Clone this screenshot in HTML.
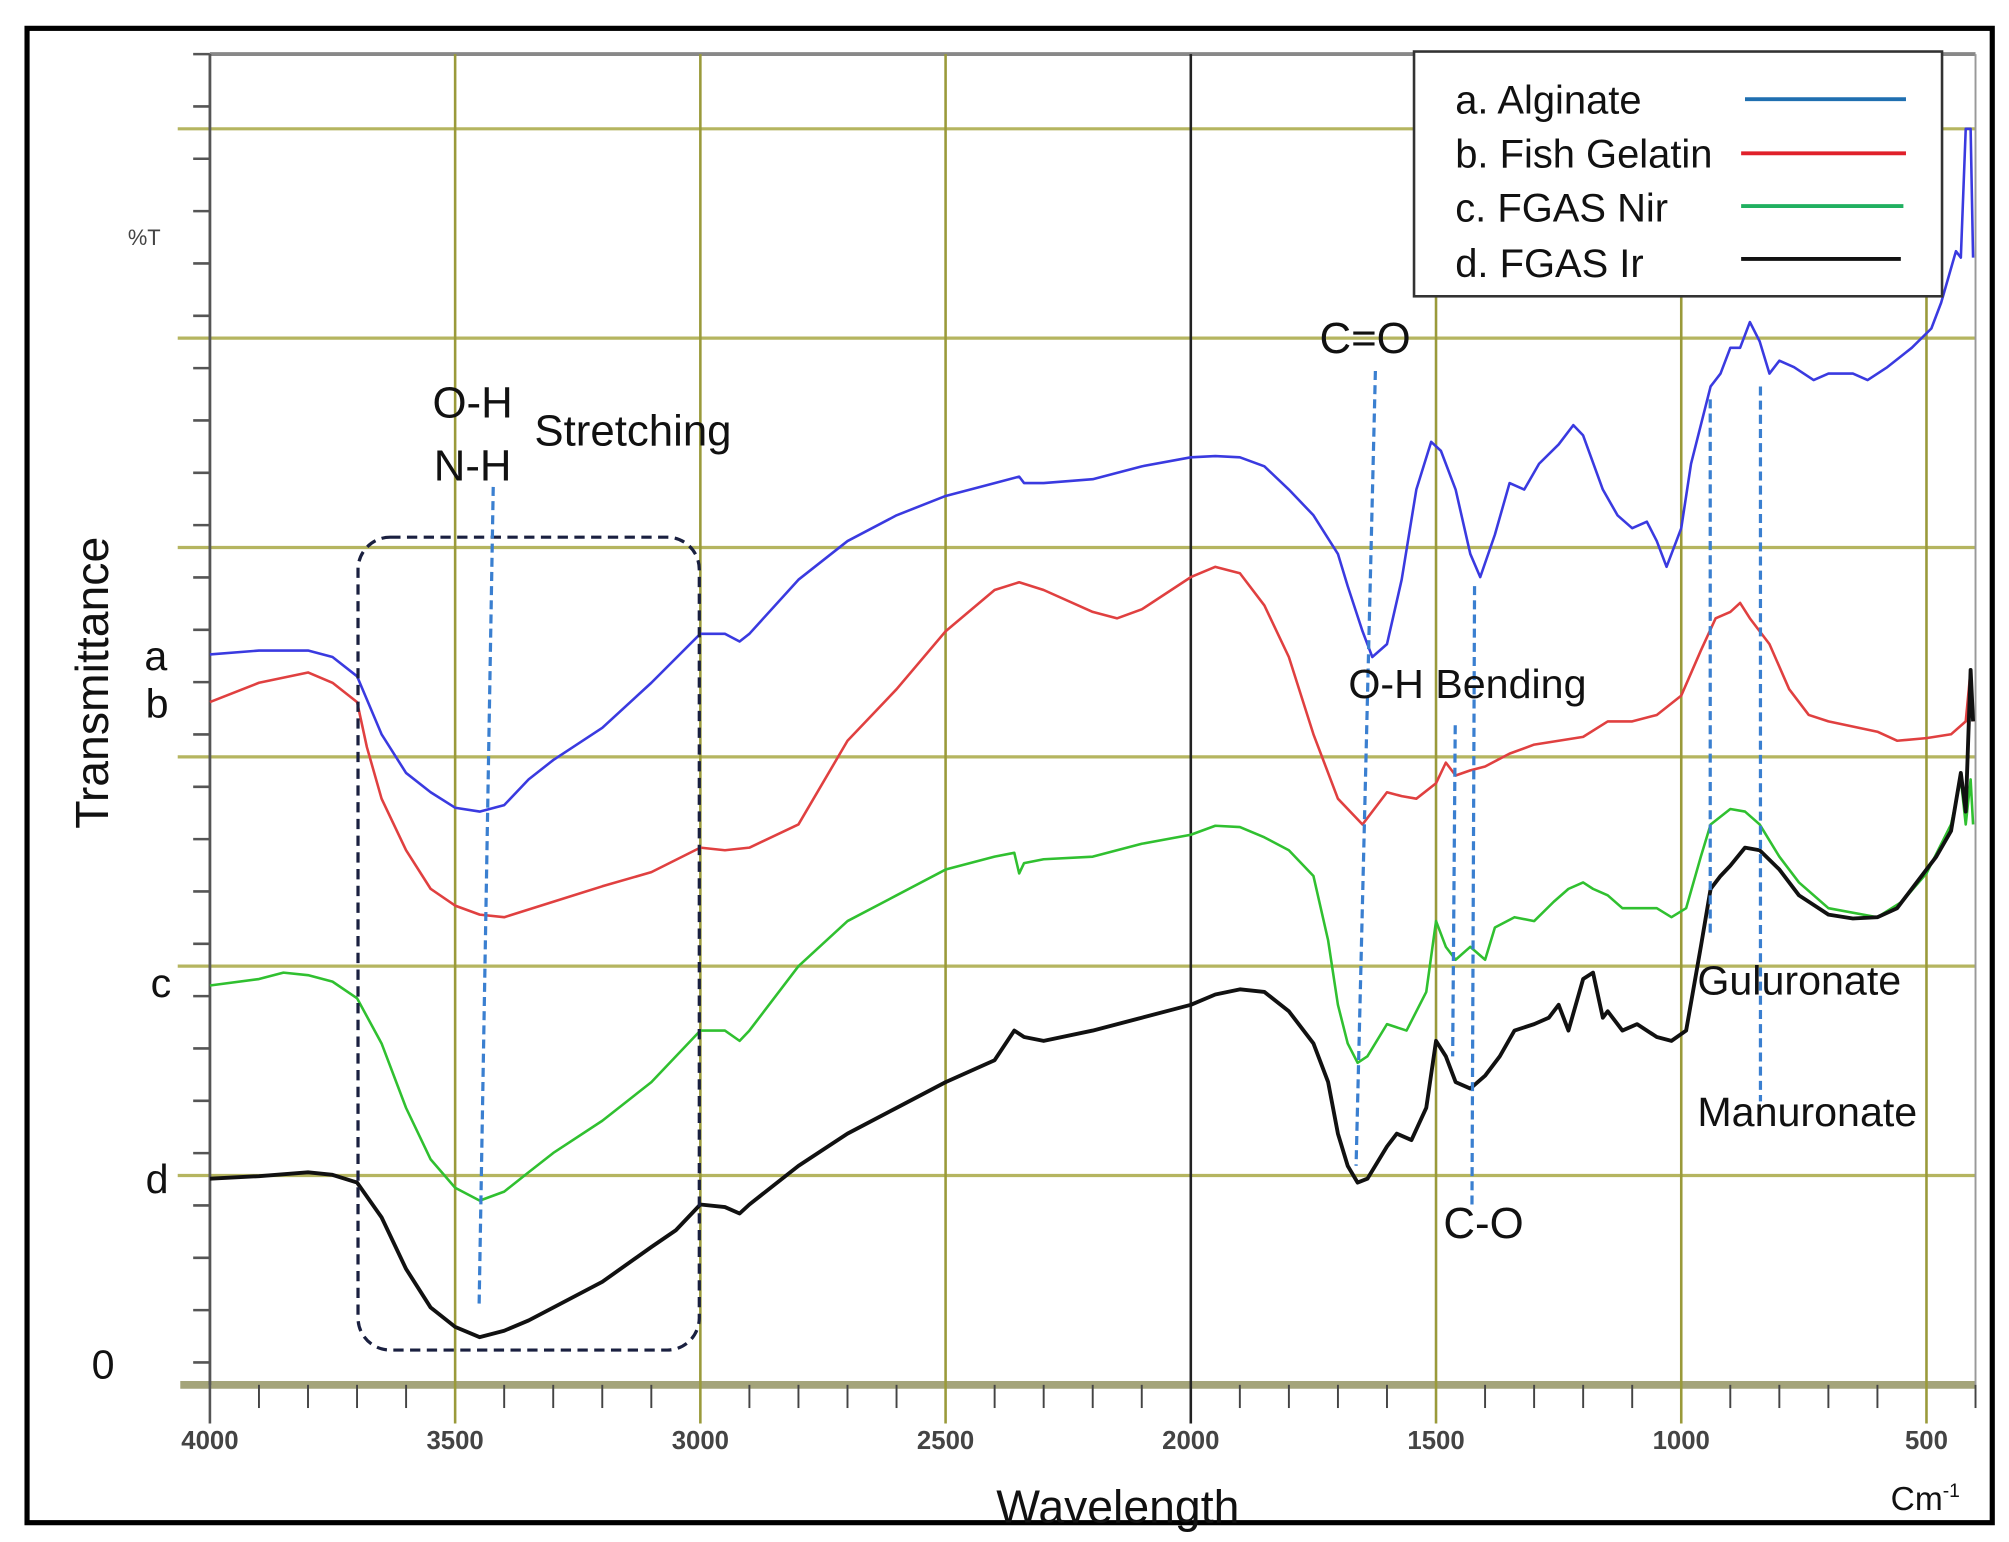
<!DOCTYPE html>
<html><head><meta charset="utf-8"><style>
html,body{margin:0;padding:0;background:#fff;}
svg{display:block;}
text{font-family:"Liberation Sans",sans-serif;}
</style></head><body>
<svg id="chart" width="2009" height="1542" viewBox="0 0 1560 1197" preserveAspectRatio="none" xmlns="http://www.w3.org/2000/svg">
<rect x="0" y="0" width="1560" height="1197" fill="#fff"/>
<rect x="21" y="22" width="1526" height="1160" fill="none" stroke="#000" stroke-width="4"/>
<g id="grid"></g>
<g id="series"></g>
<g id="annot">
  <rect x="278" y="417" width="265" height="631" rx="25" fill="none" stroke="#1a2040" stroke-width="2.5" stroke-dasharray="8,5"/>
  <line x1="383" y1="378" x2="372" y2="1015" stroke="#3a7fd0" stroke-width="2.5" stroke-dasharray="7,4"/>
  <line x1="1068" y1="288" x2="1053" y2="905" stroke="#3a7fd0" stroke-width="2.5" stroke-dasharray="7,4"/>
  <line x1="1130" y1="563" x2="1128" y2="820" stroke="#3a7fd0" stroke-width="2.5" stroke-dasharray="7,4"/>
  <line x1="1145" y1="455" x2="1143" y2="935" stroke="#3a7fd0" stroke-width="2.5" stroke-dasharray="7,4"/>
  <line x1="1328" y1="310" x2="1328" y2="728" stroke="#3a7fd0" stroke-width="2.5" stroke-dasharray="7,4"/>
  <line x1="1367" y1="300" x2="1367" y2="855" stroke="#3a7fd0" stroke-width="2.5" stroke-dasharray="7,4"/>
  <text x="1060" y="274" font-size="34" text-anchor="middle" fill="#111">C=O</text>
  <text x="367" y="324" font-size="34" text-anchor="middle" fill="#111">O-H</text>
  <text x="367" y="373" font-size="34" text-anchor="middle" fill="#111">N-H</text>
  <text x="415" y="346" font-size="34" fill="#111">Stretching</text>
  <text x="1047" y="542" font-size="32" fill="#111">O-H Bending</text>
  <text x="1152" y="961" font-size="34" text-anchor="middle" fill="#111">C-O</text>
  <text x="1318" y="772" font-size="32" fill="#111">Guluronate</text>
  <text x="1318" y="874" font-size="32" fill="#111">Manuronate</text>
</g>
<g>
  <rect x="1098" y="40" width="410" height="190" fill="#fff" stroke="#333" stroke-width="2"/>
  <text x="1130" y="88" font-size="31" fill="#111">a. Alginate</text>
  <line x1="1355" y1="77" x2="1480" y2="77" stroke="#1f6fb0" stroke-width="3"/>
  <text x="1130" y="130" font-size="31" fill="#111">b. Fish Gelatin</text>
  <line x1="1352" y1="119" x2="1480" y2="119" stroke="#e0202a" stroke-width="3"/>
  <text x="1130" y="172" font-size="31" fill="#111">c. FGAS Nir</text>
  <line x1="1352" y1="160" x2="1478" y2="160" stroke="#20b060" stroke-width="3"/>
  <text x="1130" y="215" font-size="31" fill="#111">d. FGAS Ir</text>
  <line x1="1352" y1="201" x2="1476" y2="201" stroke="#111" stroke-width="3"/>
</g>
<text x="112" y="190" font-size="17" text-anchor="middle" fill="#444">%T</text>
<text transform="translate(84,530) rotate(-90)" font-size="36" text-anchor="middle" fill="#111">Transmittance</text>
<text x="121" y="520" font-size="32" text-anchor="middle" fill="#111">a</text>
<text x="122" y="557" font-size="32" text-anchor="middle" fill="#111">b</text>
<text x="125" y="774" font-size="32" text-anchor="middle" fill="#111">c</text>
<text x="122" y="926" font-size="32" text-anchor="middle" fill="#111">d</text>
<text x="80" y="1070" font-size="32" text-anchor="middle" fill="#111">0</text>
<text x="868" y="1182" font-size="36" text-anchor="middle" fill="#111">Wavelength</text>
<text x="1495" y="1172" font-size="26" text-anchor="middle" fill="#111">Cm<tspan font-size="15" dy="-10">-1</tspan></text>
</svg>
<script>
const xTicks = [4000,3500,3000,2500,2000,1500,1000,500];
const hGridValues = [0,162.5,325,487.5,650,812.5,975];

const wnA = [4000,3900,3800,3750,3700,3650,3600,3550,3500,3450,3400,3350,3300,3200,3100,3000,2950,2920,2900,2800,2700,2600,2500,2400,2350,2340,2300,2200,2100,2000,1950,1900,1850,1800,1750,1700,1680,1650,1630,1600,1570,1540,1510,1490,1460,1430,1410,1380,1350,1320,1290,1250,1220,1200,1160,1130,1100,1070,1050,1030,1000,980,960,940,920,900,880,860,840,820,800,770,730,700,650,620,580,530,490,470,440,430,420,410,405];
const valA = [567,570,570,565,550,505,475,460,448,445,450,470,485,510,545,583,583,577,583,625,655,675,690,700,705,700,700,703,713,720,721,720,713,695,675,645,620,585,565,575,625,695,732,725,695,645,627,660,700,695,715,730,745,737,695,675,665,670,655,635,665,715,745,775,785,805,805,825,810,785,795,790,780,785,785,780,790,805,820,840,880,875,975,975,875];

const wnB = [4000,3900,3800,3750,3700,3680,3650,3600,3550,3500,3450,3400,3300,3200,3100,3000,2950,2900,2800,2700,2600,2500,2400,2350,2300,2200,2150,2100,2000,1950,1900,1850,1800,1750,1700,1650,1620,1600,1570,1540,1500,1480,1460,1430,1400,1350,1300,1250,1200,1150,1100,1050,1000,960,930,900,880,860,820,780,740,700,600,560,500,450,420,410,405];
const valB = [530,545,553,545,530,495,455,415,385,372,365,363,375,387,398,417,415,417,435,500,540,585,617,623,617,600,595,602,627,635,630,605,565,505,455,435,450,460,457,455,467,483,473,477,480,490,497,500,503,515,515,520,535,570,595,600,607,595,575,540,520,515,507,500,502,505,515,555,515];

const wnC = [4000,3900,3850,3800,3750,3700,3650,3600,3550,3500,3450,3400,3350,3300,3200,3100,3050,3000,2950,2920,2900,2800,2700,2600,2500,2400,2360,2350,2340,2300,2200,2100,2000,1950,1900,1850,1800,1750,1720,1700,1680,1660,1640,1600,1560,1520,1500,1480,1460,1430,1400,1380,1340,1300,1260,1230,1200,1180,1150,1120,1080,1050,1020,990,960,940,900,870,840,800,760,700,600,550,500,450,430,420,410,405];
const valC = [310,315,320,318,313,300,265,215,175,153,143,150,165,180,205,235,255,275,275,267,275,325,360,380,400,410,413,397,405,408,410,420,427,434,433,425,415,395,345,295,265,250,255,280,275,305,360,340,330,340,330,355,363,360,375,385,390,385,380,370,370,370,363,370,410,435,447,445,435,410,390,370,363,375,397,435,470,435,470,435];

const wnD = [4000,3900,3800,3750,3700,3650,3600,3550,3500,3450,3400,3350,3300,3200,3100,3050,3000,2950,2920,2900,2800,2700,2600,2500,2400,2360,2340,2300,2200,2100,2000,1950,1900,1850,1800,1750,1720,1700,1680,1660,1640,1600,1580,1550,1520,1500,1480,1460,1430,1400,1370,1340,1300,1270,1250,1230,1200,1180,1160,1150,1120,1090,1050,1020,990,960,940,920,900,870,840,800,760,700,650,600,560,520,480,450,430,420,410,405];
const valD = [160,162,165,163,157,130,90,60,45,37,42,50,60,80,107,120,140,138,133,140,170,195,215,235,252,275,270,267,275,285,295,303,307,305,290,265,235,195,170,157,160,185,195,190,215,267,255,235,230,240,255,275,280,285,295,275,315,320,285,290,275,280,270,267,275,340,385,395,403,417,415,400,380,365,362,363,370,390,410,430,475,445,555,515];

const NS = 'http://www.w3.org/2000/svg';
const X0 = 163, X1 = 1534, WN0 = 4000, WN1 = 400;
const Y0 = 1075, Y1 = 42, V0 = 0, V1 = 1033;
function xs(w){ return X0 + (WN0 - w) * (X1 - X0) / (WN0 - WN1); }
function ys(v){ return Y0 - (v - V0) * (Y0 - Y1) / (V1 - V0); }
function mk(tag, attrs, parent){ const e = document.createElementNS(NS, tag); for (const k in attrs) e.setAttribute(k, attrs[k]); parent.appendChild(e); return e; }

const grid = document.getElementById('grid');
const topLine = mk('line', {x1: X0, y1: Y1, x2: X1, y2: Y1, stroke: '#888', 'stroke-width': 3}, grid);


hGridValues.forEach((v, i) => {
  const l = mk('line', {x1: i === 0 ? 140 : 138, y1: ys(v), x2: X1, y2: ys(v), stroke: i === 0 ? '#a4a47a' : '#b5b560', 'stroke-width': i === 0 ? 6 : 2.5}, grid);
  
  
});
for (let y = Y1; y <= Y0; y += 162.5 / 4) {
  const t = mk('line', {x1: 150, y1: y, x2: X0, y2: y, stroke: '#555', 'stroke-width': 2}, grid);
  
  
}
const yAxis = mk('line', {x1: X0, y1: Y1, x2: X0, y2: Y0, stroke: '#555', 'stroke-width': 2}, grid);


mk('line', {x1: X1, y1: Y1, x2: X1, y2: Y0, stroke: '#999', 'stroke-width': 1.5}, grid);
xTicks.forEach(w => {
  const l = mk('line', {x1: xs(w), y1: Y1, x2: xs(w), y2: Y0 + 30, stroke: w === 2000 ? '#222' : (w === 4000 ? '#555' : '#9a9a3a'), 'stroke-width': 2}, grid);
  
  
  const t = mk('text', {x: xs(w), y: Y0 + 50, 'font-size': 20, 'text-anchor': 'middle', fill: '#444', 'font-weight': 'bold'}, grid);
  t.textContent = String(w);
  
  
});
for (let w = 3900; w >= 400; w -= 100) {
  if (w % 500 === 0) continue;
  const t = mk('line', {x1: xs(w), y1: Y0, x2: xs(w), y2: Y0 + 18, stroke: '#444', 'stroke-width': 1.5}, grid);
  
  
}

const ser = document.getElementById('series');
function drawSeries(wn, vals, color, width, name){
  let d = '';
  for (let i = 0; i < vals.length; i++) d += (i ? 'L' : 'M') + xs(wn[i]).toFixed(1) + ' ' + ys(vals[i]).toFixed(1);
  const p = mk('path', {d: d, fill: 'none', stroke: color, 'stroke-width': width, 'stroke-linejoin': 'round'}, ser);
  
  
}
drawSeries(wnA, valA, '#3a3ae0', 2, 'alginate-line');
drawSeries(wnB, valB, '#e04040', 2, 'fish-gelatin-line');
drawSeries(wnC, valC, '#30c030', 2, 'fgas-nir-line');
drawSeries(wnD, valD, '#111', 3, 'fgas-ir-line');
</script>
</body></html>
